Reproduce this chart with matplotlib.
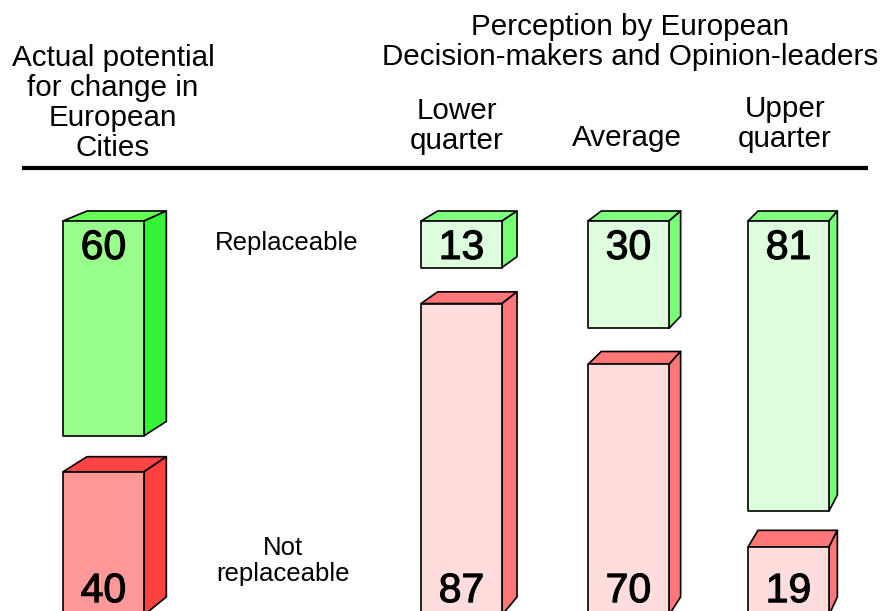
import matplotlib
matplotlib.use("Agg")
import matplotlib.pyplot as plt
from matplotlib.patches import Polygon
import matplotlib.patheffects as pe

# ---- data ----
columns = ["Actual potential for change in European Cities",
           "Lower quarter", "Average", "Upper quarter"]
replaceable = [60, 13, 30, 81]
not_replaceable = [40, 87, 70, 19]
row_labels = ["Replaceable", "Not\nreplaceable"]

# ---- layout / style ----
W, H = 880, 611
PX_PER_UNIT = 3.58
BASE_PX = 615.0          # red baseline (pixel row, just below figure)
TOP_PX = 221.0           # green front-top (pixel row)
bar_left = [63, 421, 588, 748]
bar_width = 81
S = 0.9796               # perspective depth scale
V_PX = (1239.0, -269.0)  # vanishing point in pixels

green_cols = [
    dict(front="#99ff8c", top="#66ff55", side="#33f533"),
    dict(front="#ddffdd", top="#80ff80", side="#77ff77"),
    dict(front="#ddffdd", top="#80ff80", side="#77ff77"),
    dict(front="#ddffdd", top="#80ff80", side="#77ff77"),
]
red_cols = [
    dict(front="#ff9999", top="#ff4444", side="#ff4040"),
    dict(front="#ffdddd", top="#ff7777", side="#ff7777"),
    dict(front="#ffdddd", top="#ff7777", side="#ff7777"),
    dict(front="#ffdddd", top="#ff7777", side="#ff7777"),
]

FONT = ["Liberation Sans", "DejaVu Sans"]
plt.rcParams["font.family"] = FONT

fig = plt.figure(figsize=(W / 100, H / 100), dpi=100)
ax = fig.add_axes([0, 0, 1, 1])
ymax = (BASE_PX - 0) / PX_PER_UNIT
ymin = (BASE_PX - H) / PX_PER_UNIT
ax.set_xlim(0, W)
ax.set_ylim(ymin, ymax)
ax.axis("off")

top_level = (BASE_PX - TOP_PX) / PX_PER_UNIT
VX = V_PX[0]
VY = (BASE_PX - V_PX[1]) / PX_PER_UNIT


def back(p):
    return (VX + S * (p[0] - VX), VY + S * (p[1] - VY))


def box(x0, w, y0, y1, c):
    fl, fr = (x0, y1), (x0 + w, y1)
    br_, bl_ = (x0 + w, y0), (x0, y0)
    top = [fl, fr, back(fr), back(fl)]
    side = [fr, br_, back(br_), back(fr)]
    front = [bl_, br_, fr, fl]
    kw = dict(edgecolor="black", linewidth=1.2, joinstyle="round")
    ax.add_patch(Polygon(top, closed=True, facecolor=c["top"], zorder=2, **kw))
    ax.add_patch(Polygon(side, closed=True, facecolor=c["side"], zorder=2, **kw))
    ax.add_patch(Polygon(front, closed=True, facecolor=c["front"], zorder=3, **kw))


num_fx = [pe.withStroke(linewidth=0.8, foreground="black")]
for i in range(len(columns)):
    x0 = bar_left[i]
    g = replaceable[i]
    r = not_replaceable[i]
    box(x0, bar_width, top_level - g, top_level, green_cols[i])
    box(x0, bar_width, 0, r, red_cols[i])
    cx = x0 + bar_width / 2
    ax.text(cx, top_level - 10.6, f"{g}", ha="center", va="baseline",
            fontsize=29.5, zorder=5, path_effects=num_fx)
    ax.text(cx, 3.6, f"{r}", ha="center", va="baseline",
            fontsize=29.5, zorder=5, path_effects=num_fx)


def ftext(xp, yp, s, size, ls=1.05):
    fig.text(xp / W, 1 - yp / H, s, ha="center", va="center",
             fontsize=size, linespacing=ls)


ftext(113, 103, "Actual potential\nfor change in\nEuropean\nCities", 21.3, 1.08)
ftext(630, 42, "Perception by European\nDecision-makers and Opinion-leaders", 21.3, 1.1)
ftext(457, 126, "Lower\nquarter", 21.3, 1.1)
ftext(627, 138, "Average", 21.3)
ftext(785, 124, "Upper\nquarter", 21.3, 1.1)
ftext(287, 243, row_labels[0], 18.5)
ftext(283, 561, row_labels[1], 18.5, 1.08)

ax.plot([22, 868], [(BASE_PX - 168) / PX_PER_UNIT] * 2, color="black",
        linewidth=3, solid_capstyle="butt")

fig.savefig("out.png", dpi=100)
